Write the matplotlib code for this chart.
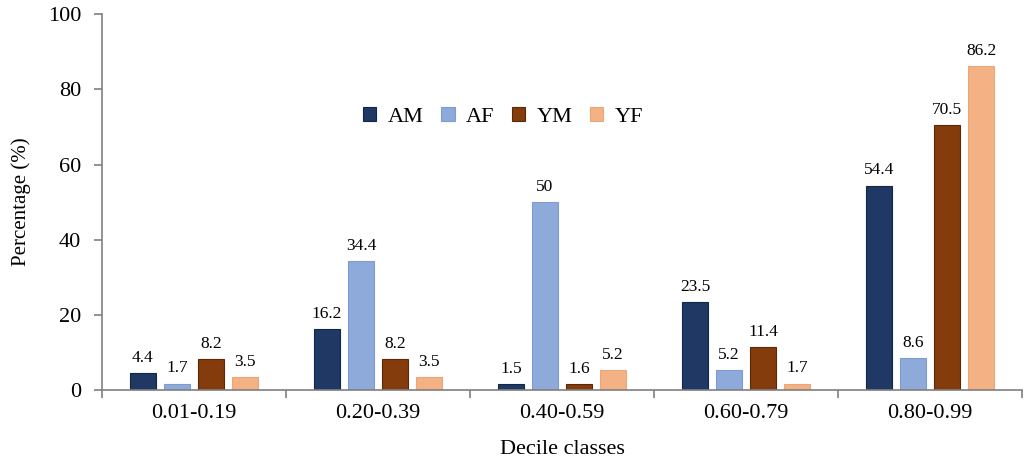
import matplotlib.pyplot as plt
import numpy as np

plt.rcParams["font.family"] = ["Liberation Serif", "DejaVu Serif"]

classes = ["0.01-0.19", "0.20-0.39", "0.40-0.59", "0.60-0.79", "0.80-0.99"]
series = ["AM", "AF", "YM", "YF"]
am = [4.4, 16.2, 1.5, 23.5, 54.4]
af = [1.7, 34.4, 50, 5.2, 8.6]
ym = [8.2, 8.2, 1.6, 11.4, 70.5]
yf = [3.5, 3.5, 5.2, 1.7, 86.2]
colors = ["#1f3864", "#8eaadb", "#843c0c", "#f4b183"]
edges = ["#14254a", "#7f9cd0", "#5a2806", "#eaa676"]

fig = plt.figure(figsize=(10.24, 4.58), dpi=100)
ax = fig.add_axes([0.0996, 0.1485, 0.8984, 0.8205])

x = np.arange(len(classes))
step = 0.185
width = 0.141
for i, (name, vals, c, e) in enumerate(zip(series, [am, af, ym, yf], colors, edges)):
    pos = x + (i - 1.5) * step
    bars = ax.bar(pos, vals, width, color=c, edgecolor=e, linewidth=0.8, label=name)
    for b, v in zip(bars, vals):
        ax.text(b.get_x() + b.get_width() / 2, v + 1.9, f"{v:g}",
                ha="center", va="bottom", fontsize=12.5)

ax.set_xlim(-0.5, len(classes) - 0.5)
ax.set_ylim(0, 100)
ax.set_yticks(range(0, 101, 20))
ax.set_xticks(x)
ax.set_xticklabels(classes, fontsize=16)
ax.set_xticks(np.arange(-0.5, len(classes) - 0.4, 1), minor=True)
ax.tick_params(axis="x", which="major", length=0, pad=10)
ax.tick_params(axis="x", which="minor", length=6, width=1.2, color="#7f7f7f")
ax.tick_params(axis="y", labelsize=16, length=6, width=1.2, color="#7f7f7f", pad=9)
for s in ["top", "right"]:
    ax.spines[s].set_visible(False)
for s in ["left", "bottom"]:
    ax.spines[s].set_color("#7f7f7f")
    ax.spines[s].set_linewidth(1.2)

ax.set_xlabel("Decile classes", fontsize=16, labelpad=12)
ax.set_ylabel("Percentage (%)", fontsize=15, labelpad=12)

ax.legend(loc="center", bbox_to_anchor=(0.436, 0.727), ncol=4, frameon=False,
          fontsize=16, handlelength=0.6, handleheight=0.6, handletextpad=0.5,
          columnspacing=0.8)

fig.savefig("out.png", dpi=100)
